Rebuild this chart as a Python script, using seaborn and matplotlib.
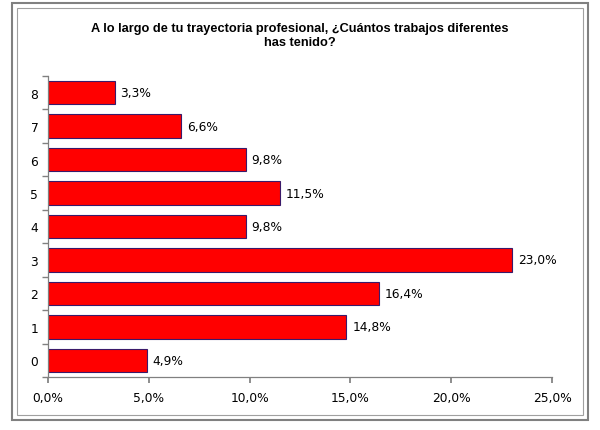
import matplotlib
matplotlib.use("Agg")
import matplotlib.pyplot as plt
import seaborn as sns
import pandas as pd
from matplotlib.patches import Rectangle
from matplotlib.ticker import FuncFormatter, FixedLocator

categories = ["0", "1", "2", "3", "4", "5", "6", "7", "8"]
values = [4.9, 14.8, 16.4, 23.0, 9.8, 11.5, 9.8, 6.6, 3.3]
value_labels = ["4,9%", "14,8%", "16,4%", "23,0%", "9,8%", "11,5%", "9,8%", "6,6%", "3,3%"]
title = "A lo largo de tu trayectoria profesional, ¿Cuántos trabajos diferentes\nhas tenido?"

sns.set_theme(style="white")
plt.rcParams['font.family'] = ['DejaVu Sans']
plt.rcParams['text.color'] = 'black'
plt.rcParams['xtick.color'] = 'black'
plt.rcParams['ytick.color'] = 'black'

df = pd.DataFrame({"cat": categories, "val": values, "lab": value_labels})
order = categories[::-1]

fig = plt.figure(figsize=(6.0, 4.31), dpi=100)
ax = fig.add_axes([48/600, 1 - 378/431, (552-48)/600, (378-77)/431])

sns.barplot(data=df, x="val", y="cat", order=order, orient="h", color="#FF0000",
            edgecolor="#3A1A6A", linewidth=0.8, width=0.7, saturation=1, ax=ax)

lab_map = dict(zip(categories, value_labels))
for i, c in enumerate(order):
    v = df.loc[df.cat == c, "val"].iloc[0]
    ax.text(v + 0.3, i, lab_map[c], va="center", ha="left", fontsize=8.8, color="black")

ax.set_xlim(0, 25)
ax.set_ylim(len(order) - 0.5, -0.5)
ax.set_xticks([0, 5, 10, 15, 20, 25])
ax.xaxis.set_major_formatter(FuncFormatter(lambda x, p: f"{x:.1f}%".replace(".", ",")))
ax.set_xlabel("")
ax.set_ylabel("")
for s in ["top", "right"]:
    ax.spines[s].set_visible(False)
for s in ["left", "bottom"]:
    ax.spines[s].set_visible(True)
    ax.spines[s].set_color("#808080")
    ax.spines[s].set_linewidth(0.9)

ax.tick_params(axis="x", which="major", direction="out", length=4, color="#808080",
               labelsize=8.8, labelcolor="black", pad=6, bottom=True)
ax.tick_params(axis="y", which="major", length=0, labelsize=8.8, labelcolor="black", pad=7)
ax.yaxis.set_minor_locator(FixedLocator([i - 0.5 for i in range(len(order) + 1)]))
ax.tick_params(axis="y", which="minor", direction="out", length=4, color="#808080", left=True)

fig.text(0.5, 1 - 36/431, title, ha="center", va="center", fontsize=9.2,
         fontweight="bold", family="Liberation Sans", linespacing=1.2, color="black")

# frame
fig.patches.append(Rectangle((12/600, 1 - 421/431), 576/600, 417/431, transform=fig.transFigure,
                             fill=False, edgecolor="#808080", linewidth=1.5))
fig.patches.append(Rectangle((17/600, 1 - 416/431), 566/600, 407/431, transform=fig.transFigure,
                             fill=False, edgecolor="#A0A0A0", linewidth=0.8))

fig.savefig("out.png", dpi=100)
